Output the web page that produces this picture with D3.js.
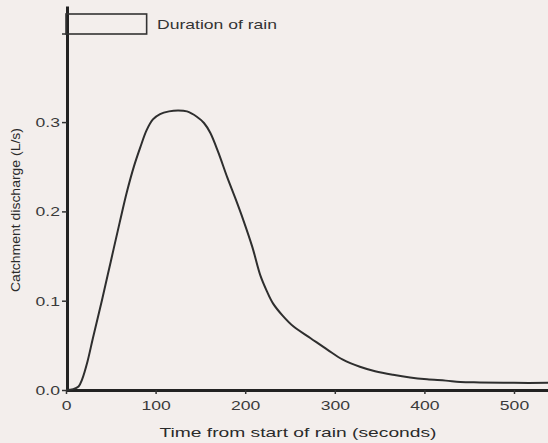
<!DOCTYPE html>
<html>
<head>
<meta charset="utf-8">
<script src="https://cdn.jsdelivr.net/npm/d3@7"></script>
<style>
body { margin: 0; background: #f3eeec; }
svg { display: block; font-family: "Liberation Sans", Arial, sans-serif; }
</style>
</head>
<body>
<script>
// hydrograph
const timeS = [0, 8, 14, 18, 24, 30, 40, 50, 60, 68, 76, 83, 90, 97, 105, 115, 125, 135, 146, 154, 161, 170, 180, 190, 198, 208, 217, 224, 231, 242, 254, 273, 292, 309, 328, 345, 365, 384, 403, 424, 440, 462, 500, 540];
const discharge = [0.000, 0.001, 0.004, 0.012, 0.032, 0.058, 0.100, 0.144, 0.188, 0.222, 0.251, 0.272, 0.291, 0.303, 0.309, 0.312, 0.313, 0.312, 0.306, 0.299, 0.288, 0.266, 0.238, 0.212, 0.190, 0.160, 0.128, 0.111, 0.097, 0.083, 0.071, 0.058, 0.045, 0.034, 0.026, 0.021, 0.017, 0.014, 0.012, 0.0105, 0.009, 0.0085, 0.008, 0.008];

const xTicks = [0, 100, 200, 300, 400, 500];
const yTicks = [0, 0.1, 0.2, 0.3];

const rainStart = 0, rainEnd = 90;
const rainLabel = "Duration of rain";

const w = 548, h = 443;
const stretch = 1.3; // the scan is wider than it is tall

const svg = d3.select("body").append("svg")
  .attr("width", w)
  .attr("height", h);

svg.append("rect").attr("width", w).attr("height", h).attr("fill", "#f3eeec");

const x = d3.scaleLinear().domain([0, 540]).range([66, 66 + 540 * 0.896]);
const y = d3.scaleLinear().domain([0, 0.43]).range([390, 6]);

// widen a text element like the scan
function widen(sel) {
  sel.each(function () {
    const len = this.getComputedTextLength();
    d3.select(this).attr("textLength", len * stretch).attr("lengthAdjust", "spacingAndGlyphs");
  });
}

// axes
const gx = svg.append("g")
  .attr("transform", "translate(0,390)")
  .call(d3.axisBottom(x).tickValues(xTicks).tickSize(4).tickSizeOuter(0).tickPadding(6).tickFormat(d3.format("d")));

const gy = svg.append("g")
  .attr("transform", "translate(67,0)")
  .call(d3.axisLeft(y).tickValues(yTicks).tickSize(5).tickSizeOuter(0).tickPadding(2).tickFormat(d3.format(".1f")));

[gx, gy].forEach(g => {
  g.select(".domain").attr("stroke", "#222").attr("stroke-width", 3);
  g.selectAll(".tick line").attr("stroke", "#333").attr("stroke-width", 1.5);
  g.selectAll(".tick text").attr("fill", "#3a3a3a").style("font-size", "13.5px").call(widen);
});

// rain duration box
svg.append("rect")
  .attr("x", x(rainStart))
  .attr("y", 14)
  .attr("width", x(rainEnd) - x(rainStart))
  .attr("height", 20)
  .attr("fill", "none")
  .attr("stroke", "#333")
  .attr("stroke-width", 1.6);

svg.append("line")
  .attr("x1", x(rainStart) - 4).attr("x2", x(rainStart))
  .attr("y1", 34).attr("y2", 34)
  .attr("stroke", "#333").attr("stroke-width", 1.5);

svg.append("text")
  .attr("x", 157)
  .attr("y", 29)
  .attr("fill", "#333")
  .style("font-size", "13.5px")
  .text(rainLabel)
  .call(widen);

// discharge curve
const pts = timeS.map((t, i) => [t, discharge[i]]);
svg.append("path")
  .datum(pts)
  .attr("fill", "none")
  .attr("stroke", "#2e2e2e")
  .attr("stroke-width", 2)
  .attr("d", d3.line().x(d => x(d[0])).y(d => y(d[1])).curve(d3.curveCatmullRom.alpha(0.5)));

// axis titles
svg.append("text")
  .attr("x", 298)
  .attr("y", 437)
  .attr("text-anchor", "middle")
  .attr("fill", "#2a2a2a")
  .style("font-size", "13.5px")
  .text("Time from start of rain (seconds)")
  .attr("textLength", 277)
  .attr("lengthAdjust", "spacingAndGlyphs");

svg.append("text")
  .attr("transform", "translate(20,210) rotate(-90)")
  .attr("text-anchor", "middle")
  .attr("fill", "#2a2a2a")
  .style("font-size", "12.5px")
  .text("Catchment discharge (L/s)")
  .attr("textLength", 164)
  .attr("lengthAdjust", "spacingAndGlyphs");
</script>
</body>
</html>
